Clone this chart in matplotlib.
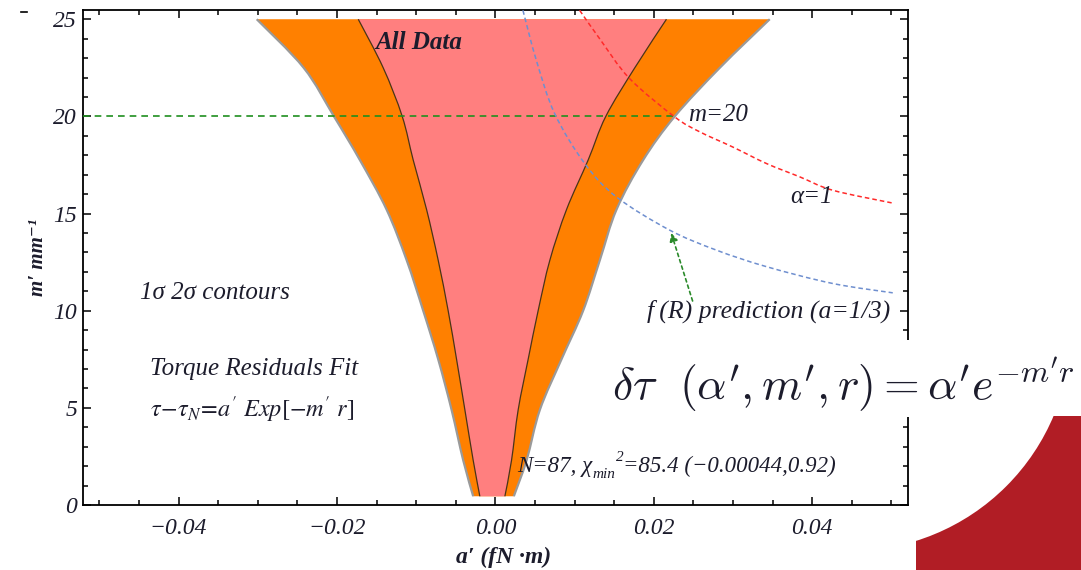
import matplotlib
matplotlib.use("Agg")
import numpy as np
import matplotlib.pyplot as plt
from matplotlib.patches import Rectangle, Ellipse, PathPatch
from matplotlib.path import Path
from matplotlib.lines import Line2D
from matplotlib.ticker import MultipleLocator, FixedLocator

serif = "Liberation Serif"
plt.rcParams["font.family"] = [serif, "DejaVu Serif"]
plt.rcParams["mathtext.fontset"] = "stix"

# ---- contour band boundaries: a' at each m' level ----
m_levels = [0.45, 2.3, 4.9, 7.5, 10.0, 12.6, 15.2, 17.75, 20.0, 22.5, 25.0]
outer_left = [-0.0028, -0.00406, -0.00553, -0.00722, -0.00911, -0.0112,
              -0.01373, -0.0171, -0.02038, -0.0242, -0.03013]
inner_left = [-0.00196, -0.0028, -0.00385, -0.0049, -0.00596, -0.00722,
              -0.00868, -0.01037, -0.01176, -0.01416, -0.01731]
inner_right = [0.0012, 0.00204, 0.00288, 0.00414, 0.0054, 0.00688,
               0.00898, 0.01171, 0.01394, 0.0176, 0.0216]
outer_right = [0.00233, 0.00394, 0.00562, 0.00835, 0.01108, 0.01319,
               0.01529, 0.01865, 0.02265, 0.02833, 0.03464]

# ---- theory curves ----
alpha1_a = [0.01064, 0.01316, 0.01694, 0.02262, 0.02578, 0.02994, 0.03425, 0.03842, 0.04258, 0.05003]
alpha1_m = [25.46, 24.0, 21.95, 19.98, 19.21, 18.43, 17.57, 16.89, 16.2, 15.55]
fr_a = [0.00348, 0.00517, 0.00748, 0.01127, 0.01527, 0.02199, 0.02789, 0.0342, 0.0426, 0.05017]
fr_m = [25.46, 22.89, 20.15, 17.58, 15.86, 14.15, 13.12, 12.27, 11.4, 10.92]

m_cut = 20.0
m_cut_a = 0.02265
arrow_tail = (0.0249, 10.5)
arrow_head = (0.0222, 14.0)

x_ticks = [-0.04, -0.02, 0.00, 0.02, 0.04]
x_ticklabels = ["\u22120.04", "\u22120.02", "0.00", "0.02", "0.04"]
y_ticks = [0, 5, 10, 15, 20, 25]
y_ticklabels = ["0", "5", "10", "15", "20", "25"]

ink = "#1c1c2c"


def bezier_parts(xs, ys):
    """Smooth cubic Bezier segments through the given points (Catmull-Rom)."""
    p = np.column_stack([xs, ys]).astype(float)
    ext = np.vstack([p[0], p, p[-1]])
    verts, codes = [p[0]], [Path.MOVETO]
    for i in range(1, len(ext) - 2):
        p0, p1, p2, p3 = ext[i - 1], ext[i], ext[i + 1], ext[i + 2]
        verts += [p1 + (p2 - p0) / 6, p2 - (p3 - p1) / 6, p2]
        codes += [Path.CURVE4] * 3
    return verts, codes


def smooth_line(xs, ys):
    v, c = bezier_parts(xs, ys)
    return Path(v, c)


def smooth_band(left, right, ys):
    v1, c1 = bezier_parts(left, ys)
    v2, c2 = bezier_parts(right[::-1], ys[::-1])
    c2[0] = Path.LINETO
    verts = v1 + v2 + [v1[0]]
    codes = c1 + c2 + [Path.CLOSEPOLY]
    return Path(verts, codes)


fig = plt.figure(figsize=(10.81, 5.70), dpi=100)
ax = fig.add_axes([0.0765, 0.1140, 0.7635, 0.8693])
ax.set_xlim(-0.0521, 0.0521)
ax.set_ylim(0, 25.5)

# 2-sigma band (orange) and 1-sigma band (pink)
ax.add_patch(PathPatch(smooth_band(outer_left, outer_right, m_levels),
                       facecolor="#ff8000", edgecolor="none", zorder=1))
ax.add_patch(PathPatch(smooth_band(inner_left, inner_right, m_levels),
                       facecolor="#ff7f7f", edgecolor="none", zorder=2))
for xs in (outer_left, outer_right):
    ax.add_patch(PathPatch(smooth_line(xs, m_levels), facecolor="none",
                           edgecolor="#9a9a9a", lw=1.6, zorder=3))
for xs in (inner_left, inner_right):
    ax.add_patch(PathPatch(smooth_line(xs, m_levels), facecolor="none",
                           edgecolor="#4a3418", lw=0.9, zorder=3))

# m = 20 cut
ax.plot([-0.0521, m_cut_a], [m_cut, m_cut], color="#1f8f1f", lw=1.2,
        ls=(0, (4, 3)), zorder=4)

# alpha = 1 and f(R) curves
ax.add_patch(PathPatch(smooth_line(alpha1_a, alpha1_m), facecolor="none",
                       edgecolor="#ff2a2a", lw=1.1, ls=(0, (3, 2)), zorder=4))
ax.add_patch(PathPatch(smooth_line(fr_a, fr_m), facecolor="none",
                       edgecolor="#6f8fcf", lw=1.1, ls=(0, (3, 2)), zorder=4))

ax.annotate("", xy=arrow_head, xytext=arrow_tail,
            arrowprops=dict(arrowstyle="-|>", color="#2a8a2a", lw=1.2,
                            ls=(0, (2, 2)), mutation_scale=12, shrinkA=0, shrinkB=0),
            zorder=5)

# annotations
txt = dict(color=ink, va="center", ha="left", zorder=6)
ax.text(-0.0152, 23.8, "All Data", fontweight="bold", fontstyle="italic", fontsize=18, **txt)
ax.text(0.0243, 20.05, "m=20", fontstyle="italic", fontsize=18, **txt)
ax.text(0.0372, 15.85, "\u03b1=1", fontstyle="italic", fontsize=18, **txt)
ax.text(0.0192, 9.95, "f\u2009(R) prediction (a=1/3)", fontstyle="italic", fontsize=18.5, **txt)
ax.text(-0.0449, 10.9, "1\u03c3 2\u03c3 contours", fontstyle="italic", fontsize=18, **txt)
ax.text(-0.0436, 7.0, "Torque Residuals Fit", fontstyle="italic", fontsize=18, **txt)
ax.text(-0.0436, 4.9, r"$\tau\!-\!\tau_N\!=\!a'\ Exp[-m'\ r]$", fontsize=17.5, **txt)

# fit summary, built from italic pieces so the digits stay italic
fit_a = ax.text(0.0028, 2.0, "N=87, \u03c7", fontstyle="italic", fontsize=16.5, **txt)
fit_b = ax.annotate("min", xy=(1, 0.12), xycoords=fit_a, fontstyle="italic",
                    fontsize=11, color=ink, va="center", ha="left", zorder=6)
fit_c = ax.annotate("2", xy=(1, 0.92), xycoords=(fit_b, fit_a), fontstyle="italic",
                    fontsize=11, color=ink, va="center", ha="left", zorder=6)
ax.annotate("=85.4 (\u22120.00044,0.92)", xy=(1, 0.5), xycoords=(fit_c, fit_a),
            fontstyle="italic", fontsize=16.5, color=ink, va="center", ha="left", zorder=6)

# axes styling
for s in ax.spines.values():
    s.set_linewidth(1.3)
    s.set_color("black")
ax.xaxis.set_major_locator(FixedLocator(x_ticks))
ax.xaxis.set_minor_locator(MultipleLocator(0.005))
ax.yaxis.set_major_locator(FixedLocator(y_ticks))
ax.yaxis.set_minor_locator(MultipleLocator(1))
ax.set_xticklabels(x_ticklabels, fontstyle="italic", fontsize=17, color=ink)
ax.set_yticklabels(y_ticklabels, fontstyle="italic", fontsize=17, color=ink)
ax.tick_params(which="both", direction="in", top=True, right=True, width=1.1, colors="black")
ax.tick_params(which="major", length=6)
ax.tick_params(which="minor", length=3.5)
ax.tick_params(axis="x", pad=9, labelcolor=ink)
ax.tick_params(axis="y", pad=4, labelcolor=ink)

ax.set_xlabel("a\u2032 (fN \u00b7m)", fontweight="bold", fontstyle="italic", fontsize=17, color=ink)
ax.xaxis.set_label_coords(0.5105, -0.085)
ax.set_ylabel("m\u2032 mm\u207b\u00b9", fontweight="bold", fontstyle="italic", fontsize=15,
              color=ink, labelpad=4)

# small stray dash at top left
fig.add_artist(Line2D([21 / 1081, 27 / 1081], [1 - 12 / 570, 1 - 12 / 570],
                      color="black", lw=1.2))

# formula banner
fig.add_artist(Rectangle((600 / 1081, 1 - 417 / 570), 481 / 1081, 77 / 570,
                         transform=fig.transFigure, facecolor="white",
                         edgecolor="none", zorder=10))
fig.text(612 / 1081, 1 - 385 / 570, r"$\delta\tau\ \ (\alpha', m', r) = \alpha' e^{-m' r}$",
         math_fontfamily="cm", fontsize=33, color=ink, va="center", ha="left", zorder=11)

# decorative corner shape
corner = Rectangle((916 / 1081, 0), 165 / 1081, 1 - 416 / 570,
                   transform=fig.transFigure, facecolor="#b11d25", edgecolor="none", zorder=12)
fig.add_artist(corner)
hole = Ellipse((850 / 1081, 1 - 330 / 570), 442 / 1081, 442 / 570,
               transform=fig.transFigure, facecolor="white", edgecolor="none", zorder=13)
fig.add_artist(hole)
hole.set_clip_path(corner)

fig.savefig("out.png", dpi=100)
